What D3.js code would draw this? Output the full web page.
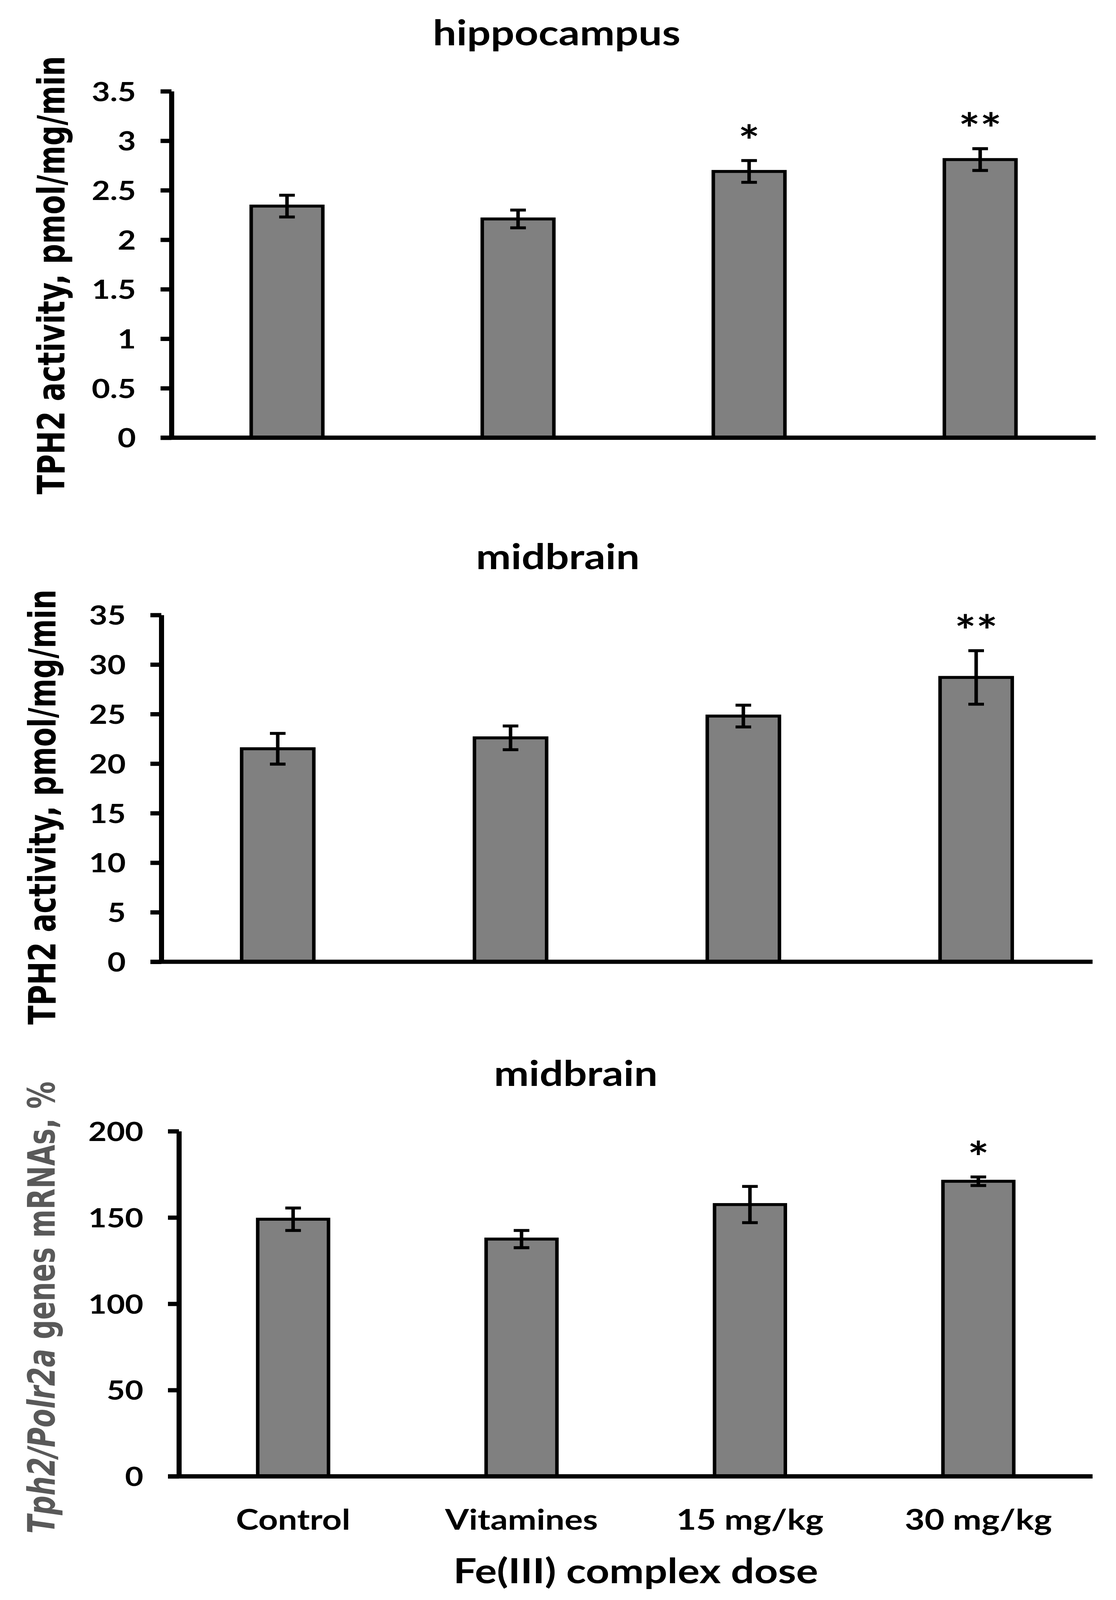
<!DOCTYPE html>
<html>
<head>
<meta charset="utf-8">
<script src="https://cdn.jsdelivr.net/npm/d3@7"></script>
<style>
  html, body { margin: 0; padding: 0; background: #ffffff; width: 100%; height: 100%; overflow: hidden; }
  svg { display: block; width: 100vw; height: 100vh; }
</style>
</head>
<body>
<script>
// ---------------- DATA ----------------
const categories = ["Control", "Vitamines", "15 mg/kg", "30 mg/kg"];

const hippoActivity = [2.34, 2.21, 2.69, 2.81];
const hippoError    = [0.11, 0.09, 0.11, 0.11];
const hippoMarks    = ["", "", "*", "**"];
const hippoTicks    = [0, 0.5, 1, 1.5, 2, 2.5, 3, 3.5];

const midActivity = [21.5, 22.6, 24.8, 28.7];
const midError    = [1.55, 1.2, 1.1, 2.7];
const midMarks    = ["", "", "", "**"];
const midTicks    = [0, 5, 10, 15, 20, 25, 30, 35];

const mrnaLevel = [149, 137.5, 157.5, 171];
const mrnaError = [6.5, 5, 10.5, 2.5];
const mrnaMarks = ["", "", "", "*"];
const mrnaTicks = [0, 50, 100, 150, 200];

const panelTitles = ["hippocampus", "midbrain", "midbrain"];
const yTitleActivity = "TPH2 activity, pmol/mg/min";
const yTitleGeneParts = [["Tph2/Polr2a", true], [" genes mRNAs, %", false]];
const xTitle = "Fe(III) complex dose";

// ---------------- LAYOUT ----------------
const W = 2857, H = 4891;
const SANS = "Lato, 'Open Sans', 'DejaVu Sans', sans-serif";
const LABELFONT = "'DejaVu Sans', Verdana, sans-serif";

const layout = [
  { axisX: 439, xEnd: 2805, yTop: 279,  yBot: 1338, titleX: 1425, titleY: 138,  labX: 165, labY: 841,  labLen: 1340, color: "#000000" },
  { axisX: 413, xEnd: 2797, yTop: 1880, yBot: 2940, titleX: 1428, titleY: 1740, labX: 142, labY: 2467, labLen: 1330, color: "#000000" },
  { axisX: 458, xEnd: 2797, yTop: 3458, yBot: 4513, titleX: 1474, titleY: 3320, labX: 140, labY: 3997, labLen: 1382, color: "#595959" }
];

const panels = [
  { values: hippoActivity, errors: hippoError, marks: hippoMarks, ticks: hippoTicks, title: panelTitles[0], ylab: [[yTitleActivity, false]] },
  { values: midActivity,   errors: midError,   marks: midMarks,   ticks: midTicks,   title: panelTitles[1], ylab: [[yTitleActivity, false]] },
  { values: mrnaLevel,     errors: mrnaError,  marks: mrnaMarks,  ticks: mrnaTicks,  title: panelTitles[2], ylab: yTitleGeneParts }
];

const svg = d3.select("body").append("svg")
  .attr("viewBox", `0 0 ${W} ${H}`)
  .attr("preserveAspectRatio", "none");
svg.append("rect").attr("width", W).attr("height", H).attr("fill", "#ffffff");

function fitSize(text, targetW) {
  const t = svg.append("text").attr("font-family", SANS).attr("font-weight", 700)
    .attr("font-size", 100).text(text);
  const w = t.node().getComputedTextLength();
  t.remove();
  return 100 * targetW / w;
}

const tickFS   = fitSize("200", 141);
const catFS    = fitSize("Vitamines", 391);
const titleFS  = fitSize("midbrain", 419);
const xTitleFS = fitSize(xTitle, 934);
const starFS   = 130;

const BAR_FRAC = 0.31;
const CAP = 40;

panels.forEach((p, i) => {
  const L = layout[i];
  const x = d3.scaleBand().domain(categories).range([L.axisX, L.xEnd]);
  const y = d3.scaleLinear().domain([0, d3.max(p.ticks)]).range([L.yBot, L.yTop]);
  const g = svg.append("g");
  const bw = x.bandwidth();
  const barW = bw * BAR_FRAC;
  const cx = d => x(d) + bw / 2;

  // bars
  g.selectAll("rect.bar").data(categories).join("rect")
    .attr("class", "bar")
    .attr("x", d => cx(d) - barW / 2)
    .attr("y", (d, j) => y(p.values[j]))
    .attr("width", barW)
    .attr("height", (d, j) => y(0) - y(p.values[j]))
    .attr("fill", "#808080")
    .attr("stroke", "#000000")
    .attr("stroke-width", 9);

  // error bars
  const eb = g.selectAll("g.err").data(categories).join("g").attr("class", "err")
    .attr("stroke", "#000000").attr("stroke-width", 9).attr("fill", "none");
  eb.append("line")
    .attr("x1", d => cx(d)).attr("x2", d => cx(d))
    .attr("y1", (d, j) => y(p.values[j] + p.errors[j]))
    .attr("y2", (d, j) => y(p.values[j] - p.errors[j]));
  eb.append("line")
    .attr("x1", d => cx(d) - CAP / 2).attr("x2", d => cx(d) + CAP / 2)
    .attr("y1", (d, j) => y(p.values[j] + p.errors[j]))
    .attr("y2", (d, j) => y(p.values[j] + p.errors[j]));
  eb.append("line")
    .attr("x1", d => cx(d) - CAP / 2).attr("x2", d => cx(d) + CAP / 2)
    .attr("y1", (d, j) => y(p.values[j] - p.errors[j]))
    .attr("y2", (d, j) => y(p.values[j] - p.errors[j]));

  // significance marks
  g.selectAll("text.mark").data(categories).join("text")
    .attr("class", "mark")
    .attr("x", d => cx(d))
    .attr("y", (d, j) => y(p.values[j] + p.errors[j]) - 85 + 0.56 * starFS)
    .attr("text-anchor", "middle")
    .attr("font-family", SANS).attr("font-weight", 700).attr("font-size", starFS)
    .attr("fill", "#000000")
    .text((d, j) => p.marks[j]);

  // y axis
  const ya = g.append("g").attr("transform", `translate(${L.axisX},0)`)
    .call(d3.axisLeft(y).tickValues(p.ticks).tickSize(28).tickSizeOuter(0)
      .tickPadding(63).tickFormat(d3.format("")));
  ya.attr("font-family", SANS).attr("font-size", tickFS).attr("font-weight", 700);
  ya.select(".domain").attr("stroke", "#000000").attr("stroke-width", 13);
  ya.selectAll(".tick line").attr("stroke", "#000000").attr("stroke-width", 13);
  ya.selectAll(".tick text").attr("fill", "#000000").attr("dy", "0.36em");

  // x axis baseline
  g.append("line")
    .attr("x1", L.axisX - 28).attr("x2", L.xEnd)
    .attr("y1", y(0)).attr("y2", y(0))
    .attr("stroke", "#000000").attr("stroke-width", 13);

  // title
  svg.append("text")
    .attr("x", L.titleX).attr("y", L.titleY)
    .attr("text-anchor", "middle")
    .attr("font-family", SANS).attr("font-weight", 700).attr("font-size", titleFS)
    .attr("fill", "#000000")
    .text(p.title);

  // y label (rotated)
  const yl = svg.append("text")
    .attr("transform", `translate(${L.labX},${L.labY}) rotate(-90)`)
    .attr("text-anchor", "middle")
    .attr("font-family", LABELFONT).attr("font-weight", 700).attr("font-size", 96)
    .attr("fill", L.color);
  p.ylab.forEach(([txt, it]) => {
    yl.append("tspan").attr("font-style", it ? "italic" : "normal").text(txt);
  });
  const natural = yl.node().getComputedTextLength();
  const sx = L.labLen / natural;
  yl.attr("transform", `translate(${L.labX},${L.labY}) rotate(-90) scale(${sx},1)`);

  // category labels & x title on the last panel
  if (i === panels.length - 1) {
    g.selectAll("text.cat").data(categories).join("text")
      .attr("class", "cat")
      .attr("x", d => cx(d)).attr("y", 4676)
      .attr("text-anchor", "middle")
      .attr("font-family", SANS).attr("font-weight", 700).attr("font-size", catFS)
      .attr("fill", "#000000")
      .text(d => d);
    svg.append("text")
      .attr("x", (L.axisX + L.xEnd) / 2).attr("y", 4840)
      .attr("text-anchor", "middle")
      .attr("font-family", SANS).attr("font-weight", 700).attr("font-size", xTitleFS)
      .attr("fill", "#000000")
      .text(xTitle);
  }
});
</script>
</body>
</html>
